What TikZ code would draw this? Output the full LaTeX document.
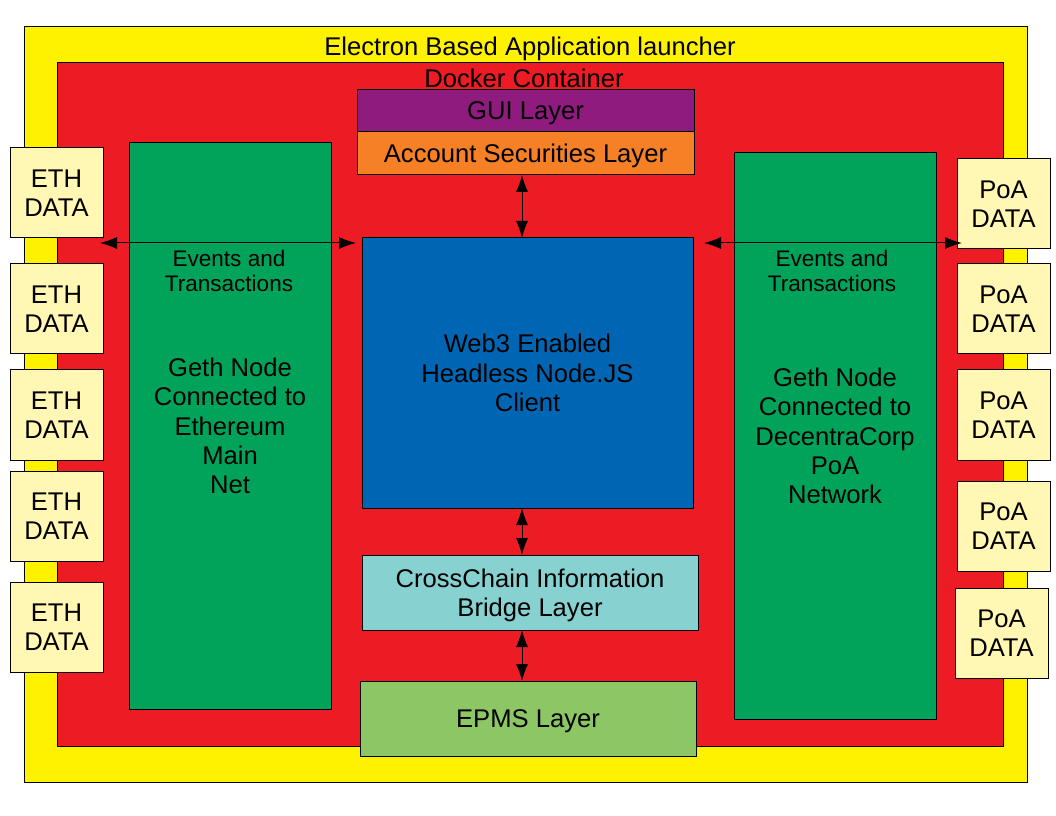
\documentclass[tikz,border=0pt]{standalone}
\usepackage{fontspec}
\setmainfont{Liberation Sans}
\usetikzlibrary{arrows.meta}
\definecolor{cyel}{HTML}{FFF200}
\definecolor{cred}{HTML}{ED1C24}
\definecolor{cgrn}{HTML}{00A359}
\definecolor{cpur}{HTML}{8E1B7D}
\definecolor{cora}{HTML}{F58025}
\definecolor{cblu}{HTML}{0066B3}
\definecolor{ctea}{HTML}{87D1D1}
\definecolor{clgr}{HTML}{8CC665}
\definecolor{ccre}{HTML}{FFF7B3}
\tikzset{
  box/.style={draw=black, line width=0.75pt, inner sep=0pt, outer sep=0pt, anchor=north west, align=center,
    text depth=0pt, font=\fontsize{19.2}{22}\selectfont},
  databox/.style={box, fill=ccre, minimum width=93*0.75pt, minimum height=90*0.75pt},
  lbl/.style={inner sep=0pt, align=center, text depth=0pt, font=\fontsize{19.2}{22}\selectfont},
  evlbl/.style={inner sep=0pt, align=center, font=\fontsize{16.9}{18.8}\selectfont},
  arr/.style={line width=0.75pt, {Latex[length=12.75pt,width=9pt]}-{Latex[length=12.75pt,width=9pt]}}
}
\begin{document}
\begin{tikzpicture}[x=0.75pt,y=-0.75pt]
\useasboundingbox (0,0) rectangle (1056,816);
% outer containers
\node[box, fill=cyel, minimum width=1003*0.75pt, minimum height=755*0.75pt] (app) at (24,27) {};
\node[lbl] (apptxt) at (530,46) {Electron Based Application launcher};
\node[box, fill=cred, minimum width=946*0.75pt, minimum height=683*0.75pt] (dock) at (57,63) {};
\node[lbl] (docktxt) at (524,78) {Docker Container};
% top layers
\node[box, fill=cpur, minimum width=337*0.75pt, minimum height=42*0.75pt] (gui) at (357,90) {GUI Layer};
\node[box, fill=cora, minimum width=337*0.75pt, minimum height=43*0.75pt] (acct) at (357,132) {Account Securities Layer};
% geth nodes
\node[box, fill=cgrn, minimum width=202*0.75pt, minimum height=566*0.75pt] (lg) at (129,143) {Geth Node\\Connected to\\Ethereum\\Main\\Net};
\node[box, fill=cgrn, minimum width=202*0.75pt, minimum height=566*0.75pt] (rg) at (734,153) {Geth Node\\Connected to\\DecentraCorp\\PoA\\Network};
\node[evlbl] (lev) at (229,271) {Events and\\Transactions};
\node[evlbl] (rev) at (832,271) {Events and\\Transactions};
% central blocks
\node[box, fill=cblu, minimum width=331*0.75pt, minimum height=270*0.75pt] (web3) at (362,238) {Web3 Enabled\\Headless Node.JS\\Client};
\node[box, fill=ctea, minimum width=336*0.75pt, minimum height=75*0.75pt] (ccib) at (362,555) {CrossChain Information\\Bridge Layer};
\node[box, fill=clgr, minimum width=336*0.75pt, minimum height=75*0.75pt] (epms) at (360,681) {EPMS Layer};
% data boxes
\node[databox] (e1) at (10,148) {ETH\\DATA};
\node[databox] (e2) at (10,264) {ETH\\DATA};
\node[databox] (e3) at (10,370) {ETH\\DATA};
\node[databox] (e4) at (10,471) {ETH\\DATA};
\node[databox] (e5) at (10,582) {ETH\\DATA};
\node[databox] (p1) at (957,159) {PoA\\DATA};
\node[databox] (p2) at (957,264) {PoA\\DATA};
\node[databox] (p3) at (957,370) {PoA\\DATA};
\node[databox] (p4) at (957,481) {PoA\\DATA};
\node[databox] (p5) at (955,588) {PoA\\DATA};
% connectors
\coordinate (vx) at (522,0);
\coordinate (lend) at (100,243);
\coordinate (lbl) at (356,243);
\coordinate (rbl) at (704,243);
\coordinate (rend) at (962,243);
\draw[arr] (lend) -- (lbl);
\draw[arr] (rbl) -- (rend);
\draw[arr] (vx |- acct.south) -- (vx |- web3.north);
\draw[arr] (vx |- web3.south) -- (vx |- ccib.north);
\draw[arr] (vx |- ccib.south) -- (vx |- epms.north);
\end{tikzpicture}
\end{document}
